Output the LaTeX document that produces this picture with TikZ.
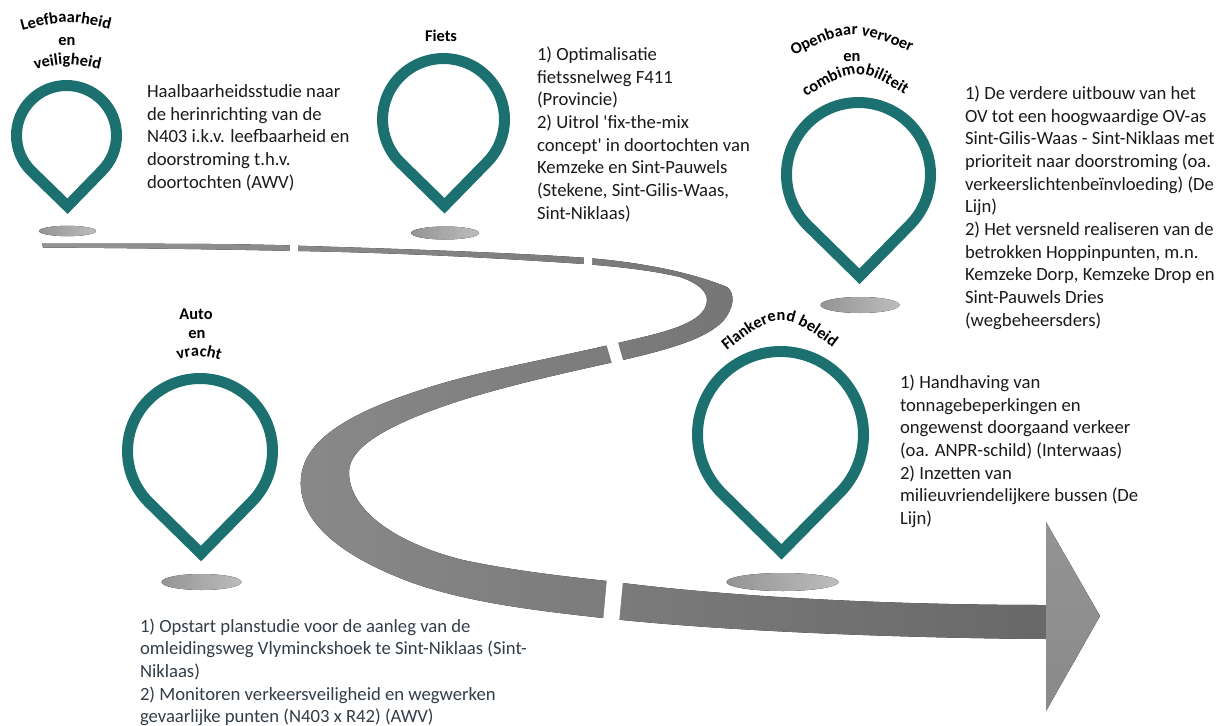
\documentclass[tikz,border=0pt]{standalone}
\usepackage{fontspec}
\setmainfont{Carlito}[Ligatures=TeXOff]
\usetikzlibrary{decorations.text}
\definecolor{pinc}{HTML}{1D7070}
\definecolor{bodyc}{HTML}{1A1A1A}
\definecolor{bluec}{HTML}{333D47}
\tikzset{
  x=1pt,y=1pt,
  pinline/.style={draw=pinc,line width=11pt,line join=miter,miter limit=10},
  shadowfill/.style={left color=black!42,right color=black!26,draw=none},
  body/.style={anchor=north west,inner sep=0pt,outer sep=0pt,align=left,text=bodyc,font=\fontsize{18.67}{22.65}\selectfont},
  title/.style={inner sep=0pt,font=\fontsize{16.4}{18}\selectfont\bfseries,text=black},
  curved/.style={decorate,decoration={text along path,text align=center,text format delimiters={|}{|},text={|\fontsize{16.4}{18}\selectfont\bfseries|#1}}}
}
% cx, cy, outer radius, shadow cx, shadow cy, shadow rx, shadow ry
\newcommand{\droppin}[7]{%
  \pgfmathsetmacro{\rr}{#3-5.5}
  \path[pinline] ({#1+\rr*cos(45)},{-#2-\rr*sin(45)}) arc[start angle=-45,end angle=225,radius=\rr] -- ({#1+1},{-#2-1.414*\rr}) -- cycle;
  \fill[shadowfill] (#4,-#5) ellipse [x radius=#6,y radius=#7];
}
\begin{document}
\begin{tikzpicture}
\useasboundingbox (0,-725) rectangle (1217,0);
% ribbon
\fill[left color=black!42,right color=black!59]
  (42,-243.5) .. controls (130,-244) and (220,-243) .. (298,-245.7)
  .. controls (400,-249) and (500,-252) .. (584,-257.7)
  .. controls (640,-262) and (690,-272) .. (727,-287)
  .. controls (735,-293) and (735,-307) .. (723,-321)
  .. controls (705,-340) and (665,-350) .. (623,-360)
  .. controls (560,-374) and (500,-387) .. (447,-405)
  .. controls (395,-423) and (349,-445) .. (349,-472)
  .. controls (349,-510) and (395,-543) .. (463,-560)
  .. controls (510,-570) and (560,-576) .. (607,-581)
  .. controls (720,-596) and (880,-605) .. (1046,-605)
  -- (1046,-639)
  .. controls (900,-638) and (720,-631) .. (603,-618)
  .. controls (540,-611) and (470,-603) .. (413,-583)
  .. controls (345,-558) and (300.7,-525) .. (300.7,-483)
  .. controls (300.7,-440) and (350,-412) .. (430,-387)
  .. controls (485,-370) and (540,-361) .. (618,-343)
  .. controls (655,-334) and (707,-325) .. (707,-300)
  .. controls (707,-290) and (695,-282) .. (680,-277)
  .. controls (650,-270) and (620,-267) .. (584,-264)
  .. controls (480,-257) and (400,-253) .. (298,-251)
  .. controls (200,-249) and (120,-248) .. (43,-247.5)
  -- cycle;
% gaps
\fill[white] (290,-240) -- (298,-240) -- (298,-256) -- (290,-256) -- cycle;
\fill[white] (584,-252) -- (592,-253) -- (592,-270) -- (584,-270) -- cycle;
\fill[white] (606,-343) -- (617,-339) -- (624,-364) -- (613,-367) -- cycle;
\fill[white] (607.3,-575) -- (623.5,-575) -- (618.7,-626) -- (602.7,-626) -- cycle;
% arrow head
\fill[top color=black!42,bottom color=black!46] (1046,-522) -- (1100,-616) -- (1046,-711) -- cycle;
% pins
\droppin{66.5}{135.5}{55.5}{67.5}{231}{28.5}{5.2}
\droppin{443.5}{119.5}{66.5}{445}{233}{34}{6.5}
\droppin{858.5}{174.5}{77.5}{860}{305}{39.5}{8}
\droppin{200}{451}{78}{201.5}{582}{40}{8}
\droppin{780.5}{434.5}{88.5}{782.5}{582}{56}{9}
% body texts
\node[body] (t1) at (147,-84.5) {Haalbaarheidsstudie naar\\de herinrichting van de\\N403 i.k.v. leefbaarheid en\\doorstroming t.h.v.\\doortochten (AWV)};
\node[body] (t2) at (537,-47) {1) Optimalisatie\\fietssnelweg F411\\(Provincie)\\2) Uitrol 'fix-the-mix\\concept' in doortochten van\\Kemzeke en Sint-Pauwels\\(Stekene, Sint-Gilis-Waas,\\Sint-Niklaas)};
\node[body] (t3) at (965,-86) {1) De verdere uitbouw van het\\OV tot een hoogwaardige OV-as\\Sint-Gilis-Waas - Sint-Niklaas met\\prioriteit naar doorstroming (oa.\\verkeerslichtenbeïnvloeding) (De\\Lijn)\\2) Het versneld realiseren van de\\betrokken Hoppinpunten, m.n.\\Kemzeke Dorp, Kemzeke Drop en\\Sint-Pauwels Dries\\(wegbeheersders)};
\node[body] (t4) at (900,-375) {1) Handhaving van\\tonnagebeperkingen en\\ongewenst doorgaand verkeer\\(oa. ANPR-schild) (Interwaas)\\2) Inzetten van\\milieuvriendelijkere bussen (De\\Lijn)};
\node[body,text=bluec] (t5) at (140,-618.5) {1) Opstart planstudie voor de aanleg van de\\omleidingsweg Vlyminckshoek te Sint-Niklaas (Sint-\\Niklaas)\\2) Monitoren verkeersveiligheid en wegwerken\\gevaarlijke punten (N403 x R42) (AWV)};
% titles
\node[title] (lbEn) at (67,-42) {en};
\path[curved={Leefbaarheid}] (12,-33.5) .. controls (66,-19) .. (120,-31.5);
\path[curved={veiligheid}] (26,-71.5) .. controls (67,-62) .. (109,-71.5);
\node[title] (fiets) at (441,-36) {Fiets};
\path[curved={Openbaar vervoer}] (784,-61) .. controls (850,-27) .. (921,-56);
\node[title] (ovEn) at (852,-58) {en};
\path[curved={combimobiliteit}] (795,-104) .. controls (857,-65) .. (916,-101);
\node[title] (autoT) at (196,-314) {Auto};
\node[title] (autoEn) at (197,-335) {en};
\path[curved={vracht}] (168,-362) .. controls (198,-354) .. (230,-363);
\path[curved={Flankerend beleid}] (714,-361) .. controls (780,-308) .. (846,-357);
\end{tikzpicture}
\end{document}
